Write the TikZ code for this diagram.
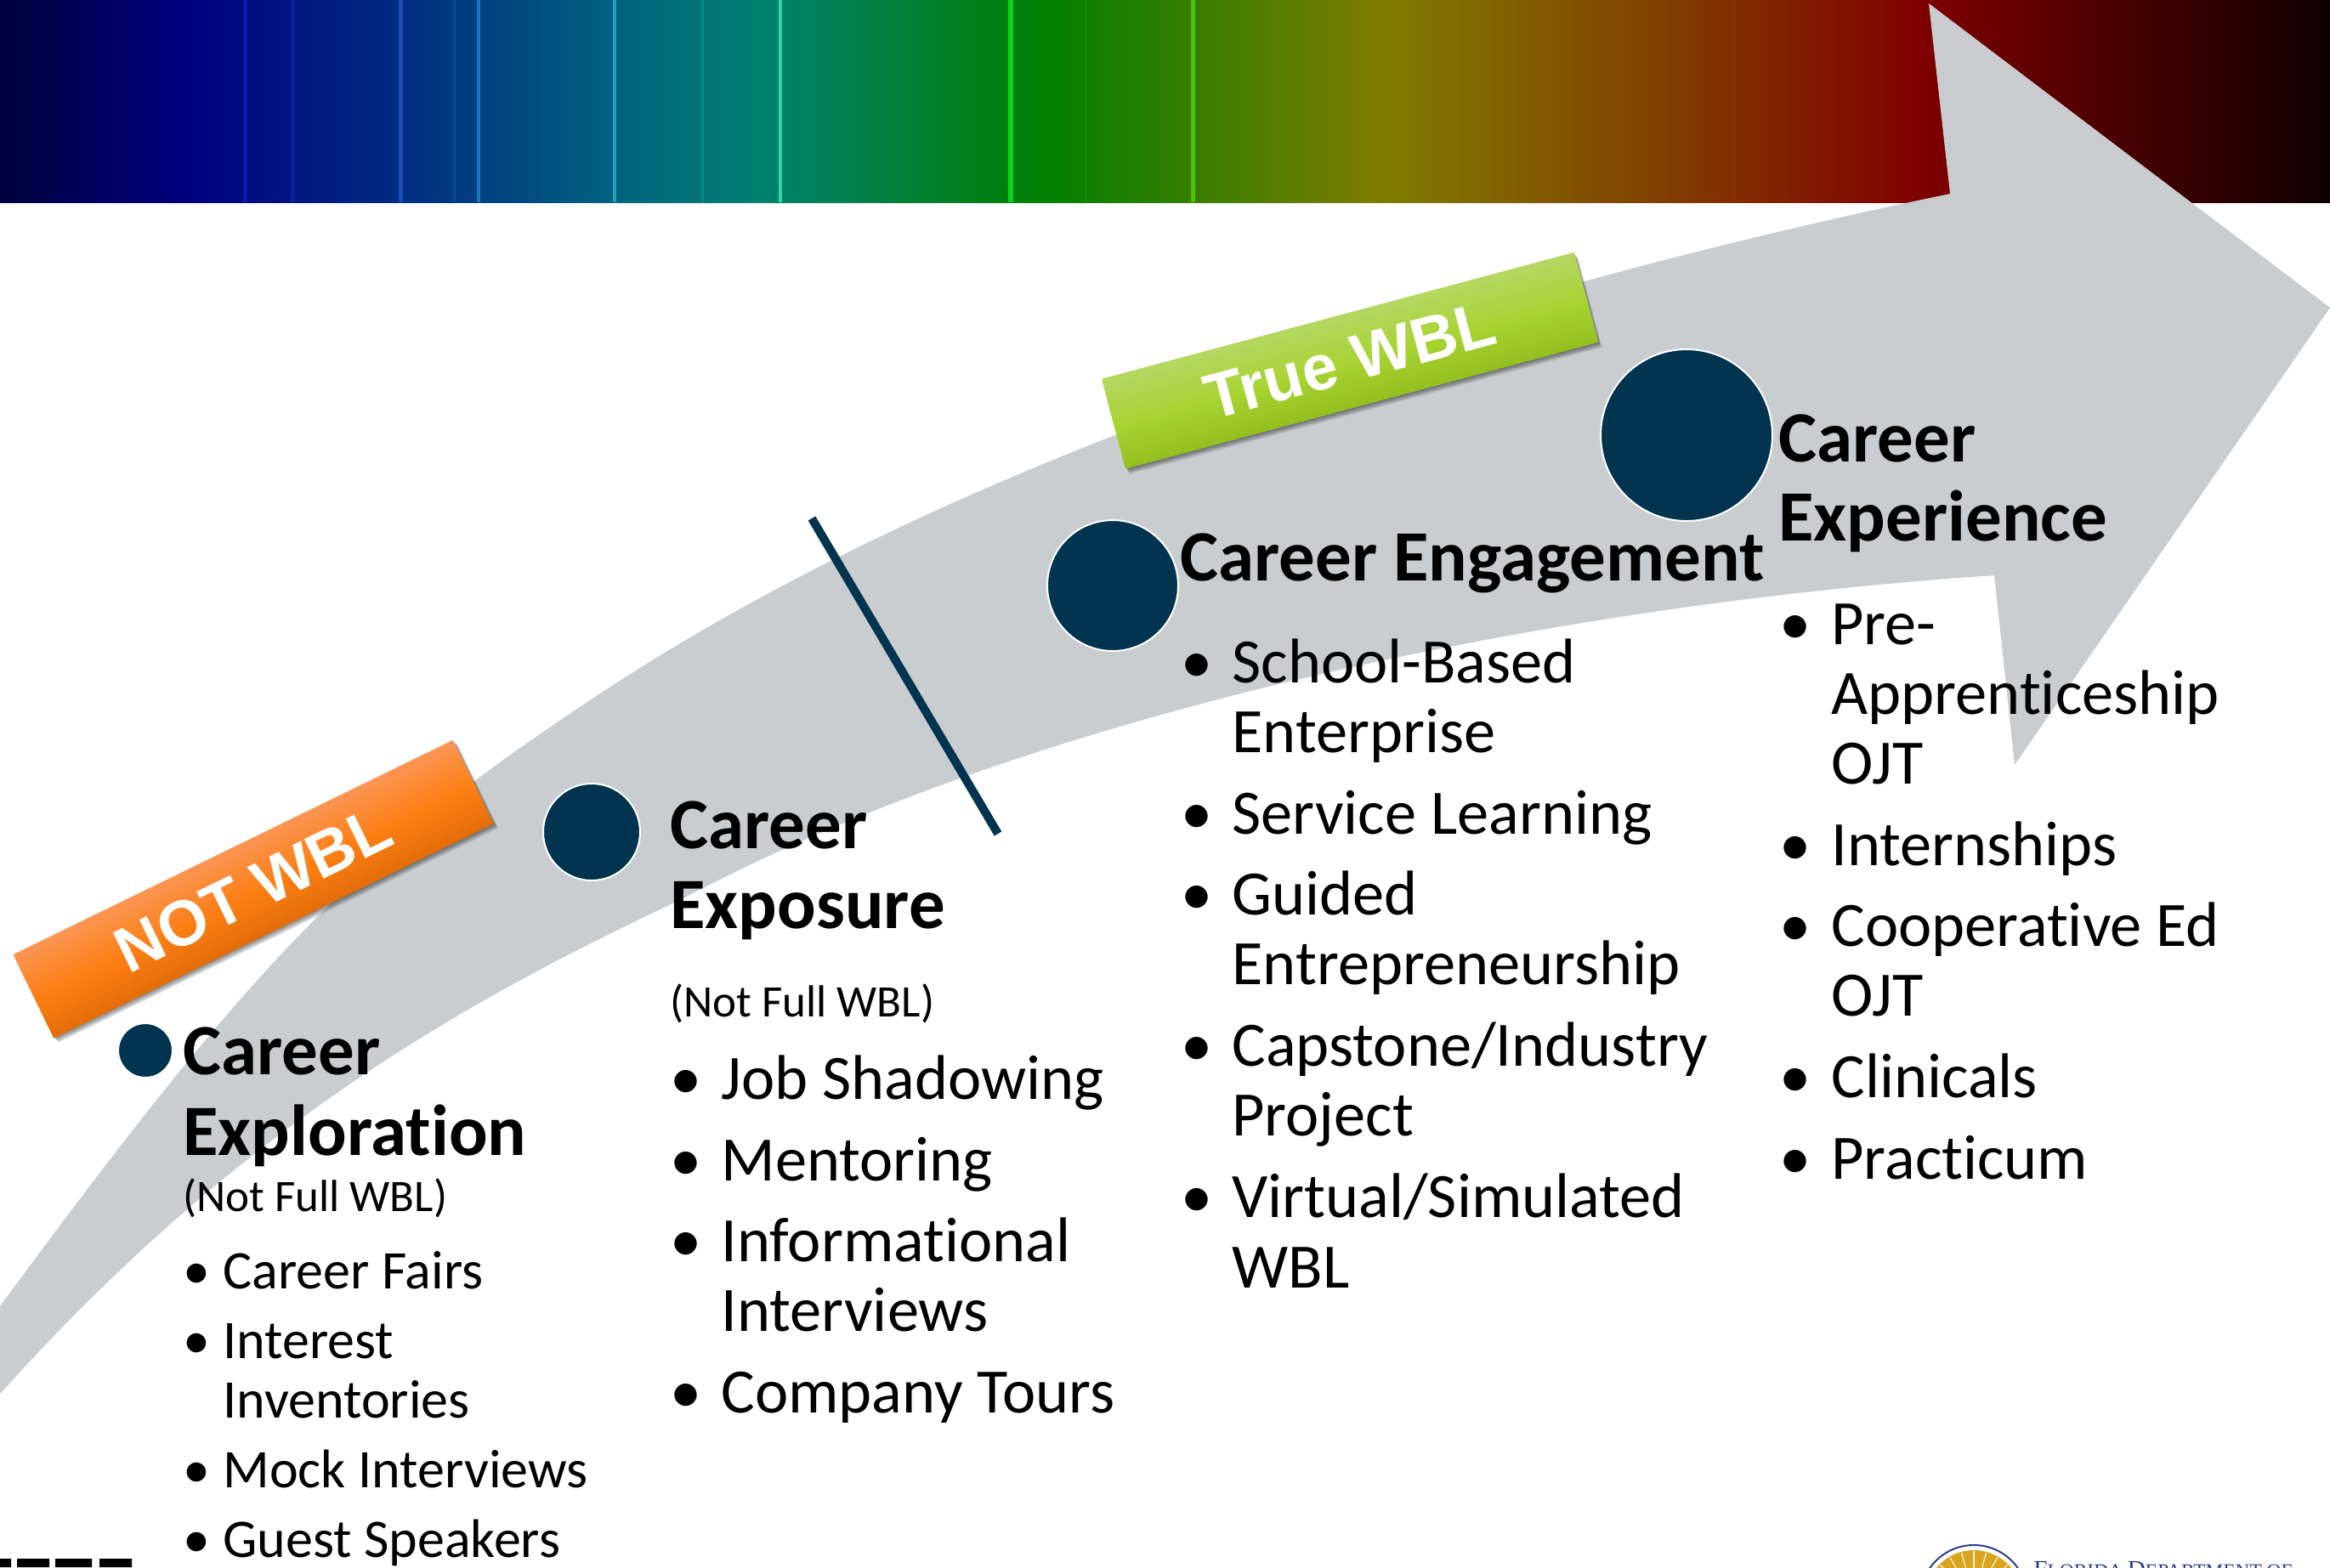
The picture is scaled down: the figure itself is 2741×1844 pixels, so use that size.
\documentclass[tikz,border=0pt]{standalone}
\usepackage{fontspec}
\setmainfont{Carlito}[Ligatures=NoCommon]
\newfontfamily\arialfont{Liberation Sans}
\newfontfamily\serifont{Liberation Serif}
\definecolor{navy}{HTML}{02344F}
\definecolor{arrowgrey}{HTML}{C9CDD0}
\definecolor{logoblue}{HTML}{2B3F8C}
\definecolor{logogold}{HTML}{D9A520}
\definecolor{ornA}{HTML}{FB9552}
\definecolor{ornB}{HTML}{FD7F14}
\definecolor{ornC}{HTML}{E26C09}
\definecolor{grnA}{HTML}{B5D762}
\definecolor{grnB}{HTML}{A8D432}
\definecolor{grnC}{HTML}{93BE1F}
\tikzset{
  x=0.5pt,y=-0.5pt,
  headtext/.style={anchor=base west,inner sep=0pt,yshift=-1.2pt,font=\bfseries\fontsize{42.5}{42.5}\selectfont,text=black},
  itemtext/.style={anchor=base west,inner sep=0pt,yshift=-1.2pt,font=\fontsize{37.2}{37.2}\selectfont,text=black},
  smalltext/.style={anchor=base west,inner sep=0pt,yshift=-1.2pt,font=\fontsize{32}{32}\selectfont,text=black},
  notetext/.style={anchor=base west,inner sep=0pt,yshift=-1.2pt,font=\fontsize{26.5}{26.5}\selectfont,text=black},
  stepdot/.style={circle,fill=navy,draw=white,line width=1pt,inner sep=0pt},
  bannertext/.style={inner sep=0pt,font=\arialfont\bfseries\fontsize{37.6}{37.6}\selectfont,text=white},
}
% #1 centre, #2 angle, #3 top colour, #4 mid colour, #5 bottom colour
\newcommand{\ribbon}[5]{%
  \begin{scope}[shift={(#1)},rotate=#2]
    \foreach \k in {1,...,5}{\fill[black,opacity=0.11] ({-287.5+0.5*\k},{-54.5+1.5*\k}) rectangle ({287.5+0.6*\k},{54.5+1.5*\k});}
    \foreach \s in {0,...,19}{
      \pgfmathsetmacro{\mixv}{100-\s*5}
      \pgfmathsetmacro{\ytop}{-54.5+\s*2.9}
      \fill[#3!\mixv!#4] (-287.5,\ytop) rectangle (287.5,54.5);
    }
    \foreach \s in {0,...,17}{
      \pgfmathsetmacro{\mixv}{100-\s*5.5}
      \pgfmathsetmacro{\ytop}{3.5+\s*2.9}
      \fill[#4!\mixv!#5] (-287.5,\ytop) rectangle (287.5,54.5);
    }
  \end{scope}}
\newcommand{\bandline}[3]{\fill[fill=#3] (#1,0) rectangle (#1+#2,238);}
\definecolor{b0}{HTML}{00003C}
\definecolor{b1}{HTML}{000080}
\definecolor{b2}{HTML}{002A80}
\definecolor{b3}{HTML}{006080}
\definecolor{b4}{HTML}{008070}
\definecolor{b5}{HTML}{007F00}
\definecolor{b6}{HTML}{807B00}
\definecolor{b7}{HTML}{804000}
\definecolor{b8}{HTML}{800000}
\definecolor{b9}{HTML}{0F0000}
\definecolor{l1}{HTML}{0818B0}
\definecolor{l2}{HTML}{08209A}
\definecolor{l3}{HTML}{1050B8}
\definecolor{l4}{HTML}{0A4C90}
\definecolor{l5}{HTML}{1878C0}
\definecolor{l6}{HTML}{20A0C0}
\definecolor{l7}{HTML}{008A88}
\definecolor{l8}{HTML}{30D8A8}
\definecolor{l9}{HTML}{10D020}
\definecolor{l10}{HTML}{108A00}
\definecolor{l11}{HTML}{50C000}
\definecolor{l12}{HTML}{8A5200}
\definecolor{l13}{HTML}{8A3000}
\begin{document}
\begin{tikzpicture}
\useasboundingbox (0,0) rectangle (2741,1844);
\clip (0,0) rectangle (2741,1844);
\fill[white] (0,0) rectangle (2741,1844);
% spectrum band
\fill[left color=b0,right color=b1] (0,0) rectangle (223,238);
\fill[left color=b1,right color=b2] (222,0) rectangle (464,238);
\fill[left color=b2,right color=b3] (463,0) rectangle (714,238);
\fill[left color=b3,right color=b4] (713,0) rectangle (893,238);
\fill[left color=b4,right color=b5] (892,0) rectangle (1230,238);
\fill[left color=b5,right color=b6] (1229,0) rectangle (1631,238);
\fill[left color=b6,right color=b7] (1630,0) rectangle (1950,238);
\fill[left color=b7,right color=b8] (1949,0) rectangle (2255,238);
\fill[left color=b8,right color=b9] (2254,0) rectangle (2741,238);
\bandline{286}{5}{l1}
\bandline{342}{5}{l2}
\bandline{469}{5}{l3}
\bandline{533}{3}{l4}
\bandline{561}{4}{l5}
\bandline{721}{4}{l6}
\bandline{825}{3}{l7}
\bandline{916}{4}{l8}
\bandline{1186}{6}{l9}
\bandline{1276}{3}{l10}
\bandline{1401}{5}{l11}
\bandline{1845}{2}{l12}
\bandline{2040}{2}{l13}
% big grey arrow
\fill[arrowgrey] (0,1537)
  .. controls (300,1129) and (420,1005) .. (700,820)
  .. controls (1150,520) and (1800,330) .. (2294,228)
  -- (2269,4) -- (2741,362) -- (2370,900) -- (2346,677)
  .. controls (1850,710) and (1230,830) .. (800,1059)
  .. controls (520,1190) and (270,1340) .. (0,1640)
  -- cycle;
% divider
\coordinate (divtop) at (955,610);
\coordinate (divbot) at (1174,981);
\draw[navy,line width=5pt] (divtop) -- (divbot);
% ribbons
\ribbon{298,1046}{26}{ornA}{ornB}{ornC}
\ribbon{1588,424}{15}{grnA}{grnB}{grnC}
\node[bannertext,rotate=26] (notwbl) at (298,1046) {NOT WBL};
\node[bannertext,rotate=15] (truewbl) at (1588,424) {True WBL};
% dots
\node[stepdot,minimum size=101pt] (d4) at (1984,512) {};
\node[stepdot,minimum size=77pt] (d3) at (1309,689) {};
\node[stepdot,minimum size=57pt] (d2) at (696,979) {};
\node[stepdot,minimum size=32pt] (d1) at (171,1236) {};
% column 1
\node[headtext] (h1a) at (215,1262) {Career};
\node[headtext] (h1b) at (215,1357) {Exploration};
\node[notetext] (n1) at (215,1423) {(Not Full WBL)};
\node[smalltext] (b1a) at (215,1514) {•}; \node[smalltext] (t1a) at (262,1514) {Career Fairs};
\node[smalltext] (b1b) at (215,1596) {•}; \node[smalltext] (t1b) at (262,1596) {Interest};
\node[smalltext] (t1c) at (262,1666) {Inventories};
\node[smalltext] (b1d) at (215,1748) {•}; \node[smalltext] (t1d) at (262,1748) {Mock Interviews};
\node[smalltext] (b1e) at (215,1830) {•}; \node[smalltext] (t1e) at (262,1830) {Guest Speakers};
% column 2
\node[headtext] (h2a) at (788,996) {Career};
\node[headtext] (h2b) at (788,1090) {Exposure};
\node[notetext] (n2) at (788,1194) {(Not Full WBL)};
\node[itemtext] (b2a) at (788,1291) {•}; \node[itemtext] (t2a) at (848,1291) {Job Shadowing};
\node[itemtext] (b2b) at (788,1387) {•}; \node[itemtext] (t2b) at (848,1387) {Mentoring};
\node[itemtext] (b2c) at (788,1482) {•}; \node[itemtext] (t2c) at (848,1482) {Informational};
\node[itemtext] (t2d) at (848,1564) {Interviews};
\node[itemtext] (b2e) at (788,1660) {•}; \node[itemtext] (t2e) at (848,1660) {Company Tours};
% column 3
\node[headtext] (h3) at (1388,681) {Career Engagement};
\node[itemtext] (b3a) at (1389,801) {•}; \node[itemtext] (t3a) at (1449,801) {School-Based};
\node[itemtext] (t3b) at (1449,883) {Enterprise};
\node[itemtext] (b3c) at (1389,979) {•}; \node[itemtext] (t3c) at (1449,979) {Service Learning};
\node[itemtext] (b3d) at (1389,1074) {•}; \node[itemtext] (t3d) at (1449,1074) {Guided};
\node[itemtext] (t3e) at (1449,1156) {Entrepreneurship};
\node[itemtext] (b3f) at (1389,1252) {•}; \node[itemtext] (t3f) at (1449,1252) {Capstone/Industry};
\node[itemtext] (t3g) at (1449,1334) {Project};
\node[itemtext] (b3h) at (1389,1430) {•}; \node[itemtext] (t3h) at (1449,1430) {Virtual/Simulated};
\node[itemtext] (t3i) at (1449,1513) {WBL};
% column 4
\node[headtext] (h4a) at (2092,541) {Career};
\node[headtext] (h4b) at (2092,634) {Experience};
\node[itemtext] (b4a) at (2093,756) {•}; \node[itemtext] (t4a) at (2154,756) {Pre-};
\node[itemtext] (t4b) at (2154,838) {Apprenticeship};
\node[itemtext] (t4c) at (2154,920) {OJT};
\node[itemtext] (b4d) at (2093,1016) {•}; \node[itemtext] (t4d) at (2154,1016) {Internships};
\node[itemtext] (b4e) at (2093,1111) {•}; \node[itemtext] (t4e) at (2154,1111) {Cooperative Ed};
\node[itemtext] (t4f) at (2154,1193) {OJT};
\node[itemtext] (b4g) at (2093,1289) {•}; \node[itemtext] (t4g) at (2154,1289) {Clinicals};
\node[itemtext] (b4h) at (2093,1385) {•}; \node[itemtext] (t4h) at (2154,1385) {Practicum};
% cropped logos
\fill[black] (0,1834) rectangle (13,1844) (20,1834) rectangle (58,1844) (65,1834) rectangle (108,1844) (117,1834) rectangle (155,1844);
\draw[logoblue,line width=1pt,fill=white] (2322,1881) circle (63);
\fill[logogold] (2322,1881) circle (57);
\foreach \a in {-60,-45,...,60}{\draw[white!85!logogold,line width=0.6pt] (2322,1881) ++({\a-90}:30) -- ++({\a-90}:26);}
\node[anchor=base west,inner sep=0pt,text=logoblue,font=\serifont\fontsize{14.6}{14.6}\selectfont] (fdoe) at (2392,1856) {F\fontsize{11.7}{11.7}\selectfont LORIDA \fontsize{14.6}{14.6}\selectfont D\fontsize{11.7}{11.7}\selectfont EPARTMENT OF};
\end{tikzpicture}
\end{document}
